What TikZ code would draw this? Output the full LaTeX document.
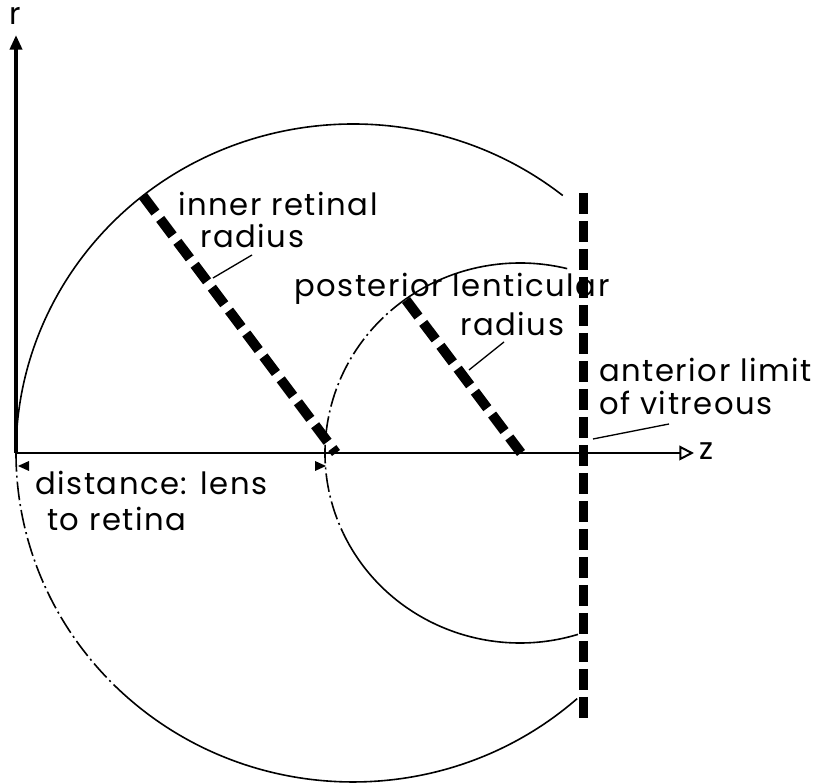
\documentclass[tikz,border=0pt]{standalone}
\usepackage{fontspec}
\setmainfont{Poppins}
\usetikzlibrary{arrows.meta,calc}
\begin{document}
\begin{tikzpicture}[x=0.75pt,y=0.75pt,
  thinline/.style={line width=1.2pt},
  bigdash/.style={line width=7.5pt,dash pattern=on 15.5pt off 6pt},
  wall/.style={line width=6.75pt,dash pattern=on 15.75pt off 5.25pt},
  leader/.style={line width=1pt},
  lbl/.style={inner sep=0pt,anchor=base west,font=\fontsize{23}{28}\selectfont\addfontfeature{LetterSpace=5}},
  brokenline/.style={line width=1.2pt,dash pattern=on 14pt off 3pt on 1.5pt off 3pt}]
\useasboundingbox (0,0) rectangle (826,784);
% key points (y measured upward)
\coordinate (O) at (16,331);
\coordinate (rtip) at (16,749);
\coordinate (ztip) at (694,331);
\coordinate (C1) at (353,331);
\coordinate (C2) at (520,331);
% axes
\draw[line width=3pt,-{Triangle[length=11pt,width=9pt]}] (O) -- (rtip);
\draw[line width=1.5pt,-{Triangle[open,length=11pt,width=11pt]}] (O) -- (ztip);
\node[lbl,anchor=base] (rl) at (15,759) {r};
\node[lbl] (zl) at (699,324) {z};
% large (retinal) contour
\draw[thinline] (C1) ++(51.5:337 and 329) arc[start angle=51.5,end angle=180,x radius=337,y radius=329];
\draw[brokenline] (C1) ++(180:337 and 329) arc[start angle=180,end angle=226,x radius=337,y radius=329];
\draw[thinline] (C1) ++(226:337 and 329) arc[start angle=226,end angle=311.7,x radius=337,y radius=329];
% small (lens) contour
\draw[thinline] (C2) ++(76:195 and 190) arc[start angle=76,end angle=126,x radius=195,y radius=190];
\draw[brokenline] (C2) ++(126:195 and 190) arc[start angle=126,end angle=205,x radius=195,y radius=190];
\draw[thinline] (C2) ++(205:195 and 190) arc[start angle=205,end angle=287.3,x radius=195,y radius=190];
% radii
\coordinate (P1) at (143,588);
\coordinate (Q1) at (336,331);
\draw[bigdash] (P1) -- (Q1);
\coordinate (P2) at (406,484);
\coordinate (Q2) at (521,331);
\draw[bigdash] (P2) -- (Q2);
% anterior limit of vitreous
\coordinate (W1) at (583,591);
\coordinate (W2) at (583,62);
\draw[wall] (W1) -- (W2);
% dimension markers
\fill (18,318) -- (29,323) -- (29,313) -- cycle;
\fill (326,318) -- (315,323) -- (315,313) -- cycle;
% labels
\node[lbl] (t1) at (178,568) {inner retinal};
\node[lbl] (t2) at (200,536) {radius};
\node[lbl] (t3) at (294,487) {posterior lenticular};
\node[lbl] (t4) at (460,448) {radius};
\node[lbl] (t5) at (599,402) {anterior limit};
\node[lbl] (t6) at (599,369) {of vitreous};
\node[lbl] (t7) at (35,289) {distance: lens};
\node[lbl] (t8) at (47,253) {to retina};
% leaders
\coordinate (L1a) at (252,529); \coordinate (L1b) at (213,506);
\draw[leader] (L1a) -- (L1b);
\coordinate (L2a) at (504,442); \coordinate (L2b) at (469,414);
\draw[leader] (L2a) -- (L2b);
\coordinate (L3a) at (669,360); \coordinate (L3b) at (593,345);
\draw[leader] (L3a) -- (L3b);
\end{tikzpicture}
\end{document}
